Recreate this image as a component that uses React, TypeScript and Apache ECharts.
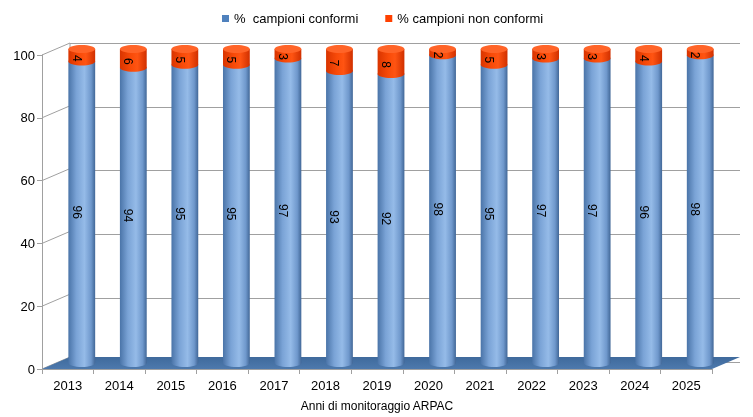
import React, { useEffect, useRef } from "react";
import * as echarts from "echarts";

const years = ["2013", "2014", "2015", "2016", "2017", "2018", "2019", "2020", "2021", "2022", "2023", "2024", "2025"];
const conformi = [96, 94, 95, 95, 97, 93, 92, 98, 95, 97, 97, 96, 98];
const nonConformi = [4, 6, 5, 5, 3, 7, 8, 2, 5, 3, 3, 4, 2];
const yTicks = [0, 20, 40, 60, 80, 100];
const legendNames = ["%  campioni conformi", "% campioni non conformi"];
const axisName = "Anni di monitoraggio ARPAC";

const DX = 28;
const DY = -12;
const FONT = "Liberation Sans, Arial, sans-serif";

export default function App() {
  const ref = useRef<HTMLDivElement>(null);
  useEffect(() => {
    if (!ref.current) return;
    const chart = echarts.init(ref.current, null, { renderer: "svg" });
    const blueGrad = new echarts.graphic.LinearGradient(0, 0, 1, 0, [
      { offset: 0, color: "#4a74a8" },
      { offset: 0.3, color: "#7aa3d6" },
      { offset: 0.6, color: "#95bbe8" },
      { offset: 0.85, color: "#6f98cc" },
      { offset: 1, color: "#416797" },
    ]);
    const redGrad = new echarts.graphic.LinearGradient(0, 0, 1, 0, [
      { offset: 0, color: "#d83400" },
      { offset: 0.4, color: "#f84a08" },
      { offset: 0.65, color: "#ff5412" },
      { offset: 1, color: "#d03000" },
    ]);
    const option: any = {
      animation: false,
      legend: {
        top: 7,
        left: 217,
        itemWidth: 7,
        itemHeight: 7,
        itemGap: 27,
        icon: "rect",
        textStyle: { fontFamily: FONT, fontSize: 13, color: "#000" },
        data: [
          { name: legendNames[0], itemStyle: { color: "#4f81bd" } },
          { name: legendNames[1], itemStyle: { color: "#ff4000" } },
        ],
      },
      grid: [
        { left: 42, right: 41, top: 55, bottom: 43 },
        { left: 70, right: 13, top: 43, bottom: 55 },
      ],
      xAxis: [
        {
          type: "category",
          gridIndex: 0,
          data: years,
          boundaryGap: true,
          axisLine: { lineStyle: { color: "#a0a0a0" } },
          axisTick: { show: true, interval: 0, length: 5, lineStyle: { color: "#a0a0a0" } },
          axisLabel: { fontFamily: FONT, fontSize: 13, color: "#000", margin: 10 },
          name: axisName,
          nameLocation: "middle",
          nameGap: 31,
          nameTextStyle: { fontFamily: FONT, fontSize: 12, color: "#000" },
        },
        {
          type: "category",
          gridIndex: 1,
          data: years,
          show: false,
        },
      ],
      yAxis: [
        {
          type: "value",
          gridIndex: 0,
          min: 0,
          max: 100,
          interval: 20,
          axisLine: { show: true, lineStyle: { color: "#a0a0a0" } },
          axisTick: { show: true, length: 5, lineStyle: { color: "#a0a0a0" } },
          axisLabel: { fontFamily: FONT, fontSize: 13, color: "#000", margin: 7 },
          splitLine: { show: false },
        },
        {
          type: "value",
          gridIndex: 1,
          min: 0,
          max: 100,
          interval: 20,
          axisLine: { show: false },
          axisTick: { show: false },
          axisLabel: { show: false },
          splitLine: { show: true, lineStyle: { color: "#a0a0a0", width: 1 } },
        },
      ],
      series: [
        {
          type: "custom",
          xAxisIndex: 0,
          yAxisIndex: 0,
          z: 1,
          silent: true,
          data: yTicks.map((v) => [0, v]),
          renderItem: (params: any, api: any) => {
            const v = api.value(1);
            const c = api.coord([0, v]);
            const band = api.size([1, 0])[0];
            const x0 = c[0] - band / 2;
            const children: any[] = [
              {
                type: "line",
                shape: { x1: x0, y1: c[1], x2: x0 + DX, y2: c[1] + DY },
                style: { stroke: "#a0a0a0", lineWidth: 1 },
              },
            ];
            if (params.dataIndex === 0) {
              const top = api.coord([0, 100]);
              const last = api.coord([years.length - 1, 0]);
              const x1 = last[0] + band / 2;
              children.push({
                type: "line",
                shape: { x1: x0 + DX, y1: top[1] + DY, x2: x0 + DX, y2: c[1] + DY },
                style: { stroke: "#a0a0a0", lineWidth: 1 },
              });
              children.push({
                type: "polygon",
                shape: {
                  points: [
                    [x0, c[1]],
                    [x1, c[1]],
                    [x1 + DX, c[1] + DY],
                    [x0 + DX, c[1] + DY],
                  ],
                },
                style: {
                  fill: new echarts.graphic.LinearGradient(0, 0, 0, 1, [
                    { offset: 0, color: "#3f6a9c" },
                    { offset: 1, color: "#4d79ad" },
                  ]),
                },
              });
            }
            return { type: "group", children };
          },
        },
        {
          type: "custom",
          name: legendNames[0],
          xAxisIndex: 0,
          yAxisIndex: 0,
          z: 5,
          silent: true,
          itemStyle: { color: "#4f81bd" },
          data: years.map((_, i) => [i, conformi[i], nonConformi[i]]),
          renderItem: (params: any, api: any) => {
            const i = api.value(0);
            const b = api.value(1);
            const r = api.value(2);
            const band = api.size([1, 0])[0];
            const w = band * 0.52;
            const rx = w / 2;
            const ry = 4;
            const ox = DX / 2;
            const oy = DY / 2;
            const base = api.coord([i, 0]);
            const cx = base[0] + ox;
            const yBase = base[1] + oy;
            const yMid = api.coord([i, b])[1] + oy;
            const yTop = api.coord([i, b + r])[1] + oy;
            return {
              type: "group",
              children: [
                {
                  type: "ellipse",
                  shape: { cx, cy: yBase, rx, ry },
                  style: { fill: blueGrad },
                },
                {
                  type: "rect",
                  shape: { x: cx - rx, y: yMid, width: w, height: yBase - yMid },
                  style: { fill: blueGrad },
                },
                {
                  type: "ellipse",
                  shape: { cx, cy: yMid, rx, ry },
                  style: { fill: redGrad },
                },
                {
                  type: "rect",
                  shape: { x: cx - rx, y: yTop, width: w, height: yMid - yTop },
                  style: { fill: redGrad },
                },
                {
                  type: "ellipse",
                  shape: { cx, cy: yTop, rx, ry },
                  style: { fill: "#ff6428" },
                },
                {
                  type: "text",
                  x: cx - 5,
                  y: (yMid + yBase) / 2,
                  rotation: -Math.PI / 2,
                  style: {
                    text: String(b),
                    fill: "#000",
                    font: `12px ${FONT}`,
                    align: "center",
                    verticalAlign: "middle",
                  },
                },
                {
                  type: "text",
                  x: cx - 5,
                  y: (yTop + yMid) / 2 + 3,
                  rotation: -Math.PI / 2,
                  style: {
                    text: String(r),
                    fill: "#000",
                    font: `12px ${FONT}`,
                    align: "center",
                    verticalAlign: "middle",
                  },
                },
              ],
            };
          },
        },
        {
          type: "custom",
          name: legendNames[1],
          xAxisIndex: 0,
          yAxisIndex: 0,
          silent: true,
          itemStyle: { color: "#ff4000" },
          data: [],
          renderItem: () => ({ type: "group", children: [] }),
        },
      ],
    };
    chart.setOption(option);
    return () => chart.dispose();
  }, []);
  return <div ref={ref} style={{ position: "fixed", left: 0, top: 0, width: 753, height: 417 }} />;
}
